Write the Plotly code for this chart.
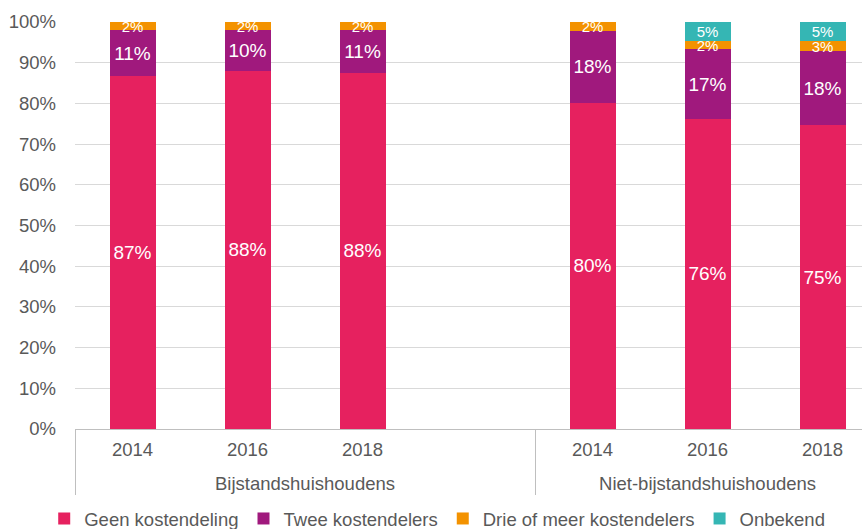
import plotly.graph_objects as go

groups = ["Bijstandshuishoudens"] * 3 + ["Niet-bijstandshuishoudens"] * 3
years = ["2014", "2016", "2018", "2014", "2016", "2018"]

geen = [86.7, 88.0, 87.5, 80.2, 76.2, 74.6]
twee = [11.3, 10.0, 10.5, 17.7, 17.1, 18.2]
drie = [2.0, 2.0, 2.0, 2.1, 2.0, 2.6]
onbekend = [None, None, None, None, 4.7, 4.6]

series = [
    ("Geen kostendeling", geen, "#E6215F", 19),
    ("Twee kostendelers", twee, "#A0197D", 19),
    ("Drie of meer kostendelers", drie, "#F39200", 15),
    ("Onbekend", onbekend, "#35B6B4", 15),
]

FONT = "Liberation Sans, Arial, sans-serif"
GREY = "#595959"

# year labels padded with tall non-breaking spaces on both sides so the
# group labels sit lower (as in the reference) while years stay centred
PAD = "<span style='font-size:32px'>\u00a0</span>"
year_labels = [PAD + y + PAD for y in years]

fig = go.Figure()
for name, vals, color, fs in series:
    fig.add_trace(go.Bar(
        x=[groups, year_labels], y=vals, name=name,
        marker=dict(color=color, line=dict(width=0)),
        width=0.4,
        texttemplate="%{y:.0f}%", textposition="inside",
        insidetextanchor="middle", constraintext="none",
        textfont=dict(color="white", size=fs, family=FONT),
        hoverinfo="skip",
    ))

# empty slot after 2018 in the first group
fig.add_trace(go.Bar(x=[["Bijstandshuishoudens"], [" "]], y=[None],
                     showlegend=False, hoverinfo="skip"))

fig.update_layout(
    width=867, height=529,
    barmode="stack",
    plot_bgcolor="white", paper_bgcolor="white",
    margin=dict(l=75, r=5, t=22, b=100),
    font=dict(family=FONT, size=18.5, color=GREY),
    legend=dict(orientation="h", xref="container", yref="container",
                x=0.051, xanchor="left", y=0.019, yanchor="middle",
                font=dict(size=18.5, color=GREY, family=FONT),
                traceorder="normal", itemwidth=30),
    showlegend=True,
)
fig.update_xaxes(
    type="multicategory", range=[-0.5, 6.343], automargin=False,
    showline=True, linecolor="#bfbfbf", linewidth=1,
    ticks="", showgrid=False,
    ticklabelstandoff=4,
    showdividers=True, dividercolor="#bfbfbf", dividerwidth=1,
    tickfont=dict(size=18.5, color=GREY, family=FONT),
)
fig.update_yaxes(
    range=[0, 100], dtick=10, ticksuffix="%", automargin=False,
    showgrid=True, gridcolor="#d9d9d9", gridwidth=1,
    zeroline=False, showline=False, ticks="",
    ticklabelstandoff=18,
    tickfont=dict(size=18.5, color=GREY, family=FONT),
)

fig.write_html("out.html", config={"displayModeBar": False},
               post_script="document.body.style.margin='0';")
